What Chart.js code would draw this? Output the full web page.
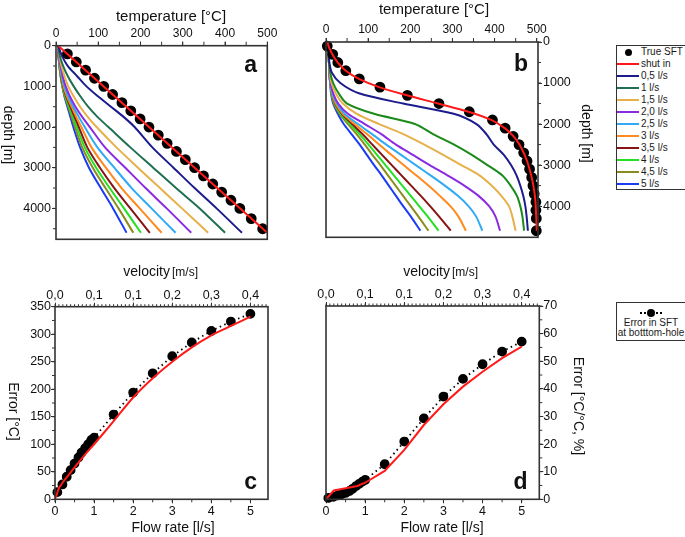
<!DOCTYPE html>
<html>
<head>
<meta charset="utf-8">
<script src="https://cdn.jsdelivr.net/npm/chart.js@4.4.1/dist/chart.umd.min.js"></script>
<style>
  html, body { margin: 0; padding: 0; background: #fff; overflow: hidden; }
  body { width: 685px; height: 537px; position: relative; font-family: "Liberation Sans", Arial, sans-serif; }
  canvas { position: absolute; }
  .legend { position: absolute; border: 1px solid #333; background: #fff; font-size: 10px; color: #1a1a1a; box-sizing: border-box; }
  .row { position: relative; height: 12px; line-height: 12px; white-space: nowrap; }
  .key { position: absolute; left: 0; top: 5px; width: 22px; height: 2px; }
  .dot { position: absolute; background: #000; border-radius: 50%; }
  .txt { position: absolute; left: 24px; top: 0; }
</style>
</head>
<body>
<canvas id="chartA" width="300" height="250" style="left:0;top:0"></canvas>
<canvas id="chartB" width="300" height="250" style="left:300px;top:0"></canvas>
<canvas id="chartC" width="300" height="287" style="left:0;top:250px"></canvas>
<canvas id="chartD" width="300" height="287" style="left:300px;top:250px"></canvas>
<div id="legend1" class="legend" style="left:616px;top:45px;width:75px;height:145px"></div>
<div id="legend2" class="legend" style="left:616px;top:302px;width:70px;height:39px;text-align:center;line-height:9.5px">
  <div style="position:relative;height:15px">
    <div style="position:absolute;left:23px;top:9px;width:22px;border-top:2px dotted #000"></div>
    <div class="dot" style="left:30px;top:6px;width:8px;height:8px"></div>
  </div>
  <div>Error in SFT</div>
  <div>at botttom-hole</div>
</div>
<script>
// ---- data ----
const flowLabels = ['0,5 l/s', '1 l/s', '1,5 l/s', '2,0 l/s', '2,5 l/s', '3 l/s', '3,5 l/s', '4 l/s', '4,5 l/s', '5 l/s'];

// panel a: temperature [°C] at depth [m]
const depthA = [0, 250, 500, 750, 1000, 1250, 1500, 1750, 2000, 2500, 3000, 3500, 4000, 4600];
const a05 = [5, 14, 28, 50, 72, 100, 130, 160, 186, 228, 278, 328, 380, 440];
const a10 = [5, 9, 17, 28, 42, 58, 76, 98, 124, 176, 230, 284, 340, 400];
const a15 = [5, 8, 13, 20, 29, 42, 57, 75, 96, 143, 194, 246, 298, 360];
const a20 = [5, 7, 11, 16, 23, 33, 46, 62, 80, 116, 164, 212, 262, 320];
const a25 = [5, 7, 10, 14, 20, 29, 41, 54, 68, 98, 138, 179, 226, 283];
const a30 = [5, 7, 9, 13, 18, 26, 37, 48, 60, 84, 118, 155, 198, 250];
const a35 = [5, 6, 9, 12, 17, 24, 34, 44, 54, 74, 104, 138, 176, 222];
const a40 = [5, 6, 8, 11, 16, 22, 31, 40, 49, 68, 95, 127, 161, 201];
const a45 = [5, 6, 8, 11, 15, 21, 29, 37, 45, 62, 87, 117, 148, 183];
const a50 = [5, 6, 8, 11, 15, 20, 27, 34, 41, 57, 78, 106, 135, 167];
const shutInDepthA = [0, 4600];
const shutInTempA = [5, 500];
const sftDepthA = [200, 400, 600, 800, 1000, 1200, 1400, 1600, 1800, 2000, 2200, 2400, 2600, 2800, 3000, 3200, 3400, 3600, 3800, 4000, 4250, 4500];
const sftTempA = [27, 48, 70, 91, 113, 134, 156, 177, 199, 220, 242, 263, 285, 306, 328, 349, 371, 392, 414, 435, 462, 489];

// panel b
const depthB = [0, 250, 500, 750, 1000, 1250, 1500, 1750, 2000, 2250, 2500, 2750, 3000, 3250, 3500, 3750, 4000, 4250, 4600];
const b05 = [5, 6, 8, 14, 34, 78, 183, 303, 357, 381, 398, 422, 439, 452, 461, 468, 473, 476, 479];
const b10 = [5, 6, 7, 10, 17, 30, 50, 114, 211, 255, 304, 346, 383, 418, 438, 453, 461, 466, 470];
const b15 = [5, 6, 7, 9, 13, 23, 40, 73, 126, 185, 233, 278, 321, 364, 393, 416, 434, 442, 450];
const b20 = [5, 6, 7, 8, 11, 17, 29, 52, 92, 132, 166, 206, 246, 288, 328, 362, 387, 402, 413];
const b25 = [5, 6, 7, 8, 10, 15, 26, 44, 76, 110, 143, 178, 213, 248, 282, 313, 338, 356, 371];
const b30 = [5, 6, 7, 8, 10, 14, 23, 40, 68, 98, 126, 155, 184, 214, 243, 270, 295, 314, 332];
const b35 = [5, 6, 7, 8, 10, 14, 22, 38, 62, 87, 110, 133, 156, 179, 202, 225, 247, 268, 296];
const b40 = [5, 6, 7, 8, 10, 13, 21, 35, 57, 80, 101, 121, 141, 161, 181, 201, 221, 241, 267];
const b45 = [5, 6, 7, 8, 10, 13, 19, 32, 52, 73, 92, 110, 129, 147, 165, 183, 201, 219, 243];
const b50 = [5, 6, 7, 8, 10, 12, 17, 28, 42, 61, 80, 97, 114, 132, 149, 166, 183, 201, 224];
const shutInDepthB = [0, 100, 300, 500, 700, 900, 1100, 1300, 1500, 1700, 1900, 2100, 2300, 2500, 2700, 2900, 3100, 3300, 3500, 3700, 3900, 4100, 4300, 4600];
const shutInTempB = [4, 6, 15, 28, 47, 78, 126, 192, 266, 338, 392, 424, 445, 459, 469, 477, 483, 488, 492, 495, 497, 498, 499, 500];
const sftDepthB = [100, 300, 500, 700, 900, 1100, 1300, 1500, 1700, 1900, 2100, 2300, 2500, 2700, 2900, 3100, 3300, 3500, 3700, 3900, 4100, 4300, 4600];
const sftTempB = [3, 16, 28, 47, 79, 128, 193, 268, 340, 395, 425, 444, 458, 469, 477, 483, 488, 491, 494, 498, 498, 499, 499];

// panels c, d: error at bottom-hole vs flow rate
const flowDots = [0.06, 0.19, 0.3, 0.4, 0.5, 0.6, 0.68, 0.77, 0.85, 0.93, 1.0, 1.5, 2, 2.5, 3, 3.5, 4, 4.5, 5];
const errC = [13, 27, 41, 53, 65, 76, 85, 93, 100, 108, 112, 154, 194, 229, 260, 285, 306, 323, 337];
const errD = [0.5, 0.9, 1.4, 1.8, 2.3, 3.0, 3.8, 4.8, 5.6, 6.4, 7.0, 12.7, 20.9, 29.3, 37.2, 43.6, 48.9, 53.5, 57.1];
const flowRedC = [0, 0.05, 0.1, 0.2, 0.3, 0.5, 0.75, 1, 1.5, 2, 2.5, 3, 3.5, 4, 4.5, 5];
const errRedC = [0, 10, 20, 31, 40, 58, 80, 100, 142, 185, 220, 250, 276, 298, 315, 332];
const flowRedD = [0, 0.2, 0.5, 0.8, 1, 1.5, 2, 2.5, 3, 3.5, 4, 4.5, 5];
const errRedD = [0, 3.2, 4.0, 4.8, 6.0, 10.3, 17.9, 26.9, 34.4, 40.8, 46.2, 51.1, 55.3];

// ticks
const tempTicks = [0, 100, 200, 300, 400, 500];
const depthTicks = [0, 1000, 2000, 3000, 4000];
const flowTicks = [0, 1, 2, 3, 4, 5];
const velocityLabels = ['0,0', '0,1', '0,1', '0,2', '0,3', '0,4'];
const errTicksC = [0, 50, 100, 150, 200, 250, 300, 350];
const errTicksD = [0, 10, 20, 30, 40, 50, 60, 70];

// ---- styling ----
const FONT = '"Liberation Sans", Arial, sans-serif';
const colorsA = ['#1c1c8c', '#1f7050', '#e6b04a', '#8a2be2', '#30aaf5', '#ff8a1e', '#861414', '#22e022', '#8c8c1e', '#1a3cf5'];
const colorsB = ['#1c1c8c', '#1a8a1a', '#e6b04a', '#8a2be2', '#30aaf5', '#ff8a1e', '#861414', '#22e022', '#8c8c1e', '#1a3cf5'];
const RED = '#ff1a1a';

Chart.defaults.font.family = FONT;
Chart.defaults.color = '#111';

function axis(position, min, max, ticks, size, more) {
  more = more || {};
  return {
    type: 'linear', position, min, max, reverse: !!more.reverse,
    afterBuildTicks: s => { s.ticks = ticks.map(v => ({ value: v })); },
    afterFit: s => { if (s.isHorizontal()) s.height = size; else s.width = size; },
    grid: { drawOnChartArea: false, color: '#333', tickLength: 4 },
    border: { display: false },
    ticks: {
      font: { size: more.fontSize || 12.5 }, color: '#111', padding: more.padding || 0,
      maxRotation: 0, autoSkip: false,
      callback: more.labels ? (v, i) => more.labels[i] : v => String(v)
    }
  };
}

function profile(label, temps, depths, color) {
  return {
    label, data: depths.map((d, i) => ({ x: temps[i], y: d })),
    showLine: true, borderColor: color, borderWidth: 2, pointRadius: 0, tension: 0.3
  };
}

function dots(label, xs, ys, r, dotted) {
  return {
    label, data: xs.map((x, i) => ({ x, y: ys[i] })),
    showLine: !!dotted, borderColor: '#000', borderWidth: 1.8, borderDash: [1.5, 3.5],
    pointRadius: r, pointBackgroundColor: '#000', pointBorderColor: '#000', clip: false
  };
}

// frame, minor ticks and free text
function decorate(cfg) {
  return {
    id: 'decor',
    afterDraw(chart) {
      const ctx = chart.ctx, a = chart.chartArea;
      ctx.save();
      ctx.strokeStyle = '#333';
      ctx.lineWidth = 1;
      (cfg.minor || []).forEach(m => {
        const s = chart.scales[m.axis];
        const n = Math.floor((s.max - s.min) / m.step + 1e-6);
        for (let k = 0; k <= n; k++) {
          const p = s.getPixelForValue(s.min + k * m.step);
          const len = m.len || 3;
          ctx.beginPath();
          if (s.position === 'top') { ctx.moveTo(p, a.top); ctx.lineTo(p, a.top - len); }
          if (s.position === 'bottom') { ctx.moveTo(p, a.bottom); ctx.lineTo(p, a.bottom + len); }
          if (s.position === 'left') { ctx.moveTo(a.left, p); ctx.lineTo(a.left - len, p); }
          if (s.position === 'right') { ctx.moveTo(a.right, p); ctx.lineTo(a.right + len, p); }
          ctx.stroke();
        }
      });
      ctx.lineWidth = 1.6;
      ctx.strokeRect(a.left, a.top, a.right - a.left, a.bottom - a.top);
      ctx.fillStyle = '#111';
      (cfg.texts || []).forEach(t => {
        ctx.save();
        ctx.font = t.font;
        ctx.textAlign = t.align || 'center';
        ctx.textBaseline = t.rot ? 'middle' : 'alphabetic';
        ctx.translate(t.x, t.y);
        if (t.rot) ctx.rotate(Math.PI / 2);
        ctx.fillText(t.text, 0, 0);
        ctx.restore();
      });
      ctx.restore();
    }
  };
}

const baseOptions = (padding) => ({
  responsive: false, animation: false,
  layout: { autoPadding: false, padding },
  plugins: { legend: { display: false }, tooltip: { enabled: false } }
});

// ---- panel a ----
const seriesA = [a05, a10, a15, a20, a25, a30, a35, a40, a45, a50];
new Chart(document.getElementById('chartA'), {
  type: 'scatter',
  data: {
    datasets: [
      profile('shut in', shutInTempA, shutInDepthA, RED),
      dots('True SFT', sftTempA, sftDepthA, 4.5, false),
      ...seriesA.map((t, i) => profile(flowLabels[i], t, depthA, colorsA[i]))
    ]
  },
  options: Object.assign(baseOptions({ left: 0, top: 0, right: 32.7, bottom: 10.7 }), {
    scales: {
      x: axis('top', 0, 500, tempTicks, 45.7, { fontSize: 12, padding: 1 }),
      y: axis('left', 0, 4760, depthTicks, 56, { reverse: true, padding: 1 })
    }
  }),
  plugins: [decorate({
    minor: [{ axis: 'x', step: 50, len: 4 }, { axis: 'y', step: 500 }],
    texts: [
      { text: 'temperature [°C]', font: '15px ' + FONT, x: 171, y: 21 },
      { text: 'depth [m]', font: '14px ' + FONT, x: 8, y: 135, rot: true },
      { text: 'a', font: 'bold 23px ' + FONT, x: 257, y: 72, align: 'right' }
    ]
  })]
});

// ---- panel b ----
const seriesB = [b05, b10, b15, b20, b25, b30, b35, b40, b45, b50];
new Chart(document.getElementById('chartB'), {
  type: 'scatter',
  data: {
    datasets: [
      profile('shut in', shutInTempB, shutInDepthB, RED),
      dots('True SFT', sftTempB, sftDepthB, 4.5, false),
      ...seriesB.map((t, i) => profile(flowLabels[i], t, depthB, colorsB[i]))
    ]
  },
  options: Object.assign(baseOptions({ left: 26, top: 0, right: 0, bottom: 12.7 }), {
    scales: {
      x: axis('top', 0, 503, tempTicks, 42, { fontSize: 12, padding: 1 }),
      y: axis('right', 0, 4760, depthTicks, 62, { reverse: true, padding: 1 })
    }
  }),
  plugins: [decorate({
    minor: [{ axis: 'x', step: 50, len: 4 }, { axis: 'y', step: 500 }],
    texts: [
      { text: 'temperature [°C]', font: '15px ' + FONT, x: 134, y: 13.5 },
      { text: 'depth [m]', font: '14px ' + FONT, x: 286, y: 133.5, rot: true },
      { text: 'b', font: 'bold 23px ' + FONT, x: 228, y: 71, align: 'right' }
    ]
  })]
});

// ---- panel c ----
new Chart(document.getElementById('chartC'), {
  type: 'scatter',
  data: {
    datasets: [
      { label: 'shut in', data: flowRedC.map((x, i) => ({ x, y: errRedC[i] })), showLine: true,
        borderColor: RED, borderWidth: 2, pointRadius: 0, tension: 0.3 },
      dots('Error in SFT at botttom-hole', flowDots, errC, 4, true)
    ]
  },
  options: Object.assign(baseOptions({ left: 0, top: 0, right: 32, bottom: 0 }), {
    scales: {
      x: axis('bottom', 0, 5.45, flowTicks, 37.7, { padding: 1 }),
      x2: axis('top', 0, 5.45, flowTicks, 56.7, { labels: velocityLabels }),
      y: axis('left', 0, 350, errTicksC, 55)
    }
  }),
  plugins: [decorate({
    minor: [{ axis: 'x', step: 0.5 }, { axis: 'x2', step: 0.1, len: 2.5 }, { axis: 'y', step: 25 }],
    texts: [
      { text: 'velocity', font: '14px ' + FONT, x: 170, y: 26, align: 'right' },
      { text: '[m/s]', font: '12px ' + FONT, x: 172, y: 26, align: 'left' },
      { text: 'Flow rate [l/s]', font: '14px ' + FONT, x: 173, y: 282 },
      { text: 'Error [°C]', font: '14px ' + FONT, x: 13, y: 161.5, rot: true },
      { text: 'c', font: 'bold 23px ' + FONT, x: 257, y: 238.5, align: 'right' }
    ]
  })]
});

// ---- panel d ----
new Chart(document.getElementById('chartD'), {
  type: 'scatter',
  data: {
    datasets: [
      { label: 'shut in', data: flowRedD.map((x, i) => ({ x, y: errRedD[i] })), showLine: true,
        borderColor: RED, borderWidth: 2, pointRadius: 0, tension: 0 },
      dots('Error in SFT at botttom-hole', flowDots, errD, 4, true)
    ]
  },
  options: Object.assign(baseOptions({ left: 26, top: 0, right: 0, bottom: 0 }), {
    scales: {
      x: axis('bottom', 0, 5.45, flowTicks, 37.7, { padding: 1 }),
      x2: axis('top', 0, 5.45, flowTicks, 56, { labels: velocityLabels }),
      y: axis('right', 0, 70, errTicksD, 60.7)
    }
  }),
  plugins: [decorate({
    minor: [{ axis: 'x', step: 0.5 }, { axis: 'x2', step: 0.1, len: 2.5 }, { axis: 'y', step: 5 }],
    texts: [
      { text: 'velocity', font: '14px ' + FONT, x: 150, y: 26, align: 'right' },
      { text: '[m/s]', font: '12px ' + FONT, x: 152, y: 26, align: 'left' },
      { text: 'Flow rate [l/s]', font: '14px ' + FONT, x: 142, y: 282 },
      { text: 'Error [°C/°C, %]', font: '14px ' + FONT, x: 278, y: 156, rot: true },
      { text: 'd', font: 'bold 23px ' + FONT, x: 227.5, y: 238.5, align: 'right' }
    ]
  })]
});

// ---- legend (top right) ----
const legend1 = document.getElementById('legend1');
const rows = [{ label: 'True SFT', dot: true }, { label: 'shut in', color: RED }]
  .concat(flowLabels.map((l, i) => ({ label: l, color: colorsA[i] })));
rows.forEach(r => {
  const row = document.createElement('div');
  row.className = 'row';
  row.innerHTML = r.dot
    ? '<div class="dot" style="left:8px;top:2.5px;width:7px;height:7px"></div>'
    : '<div class="key" style="background:' + r.color + '"></div>';
  row.innerHTML += '<span class="txt">' + r.label + '</span>';
  legend1.appendChild(row);
});
</script>
</body>
</html>
